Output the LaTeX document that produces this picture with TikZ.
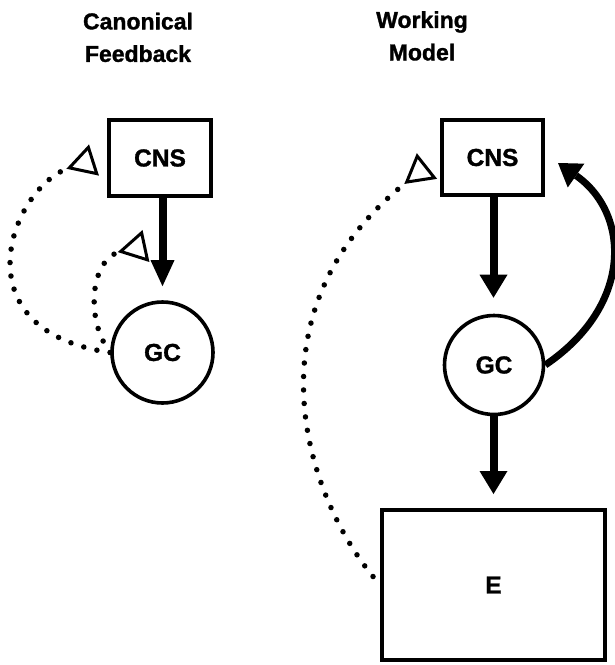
\documentclass[tikz,border=0pt]{standalone}
\usepackage{fontspec}
\setmainfont{Liberation Sans}[BoldFeatures={FakeBold=1.3}]
\usetikzlibrary{arrows.meta}
\begin{document}
\begin{tikzpicture}[x=1pt,y=1pt,
  labelfont/.style={font=\bfseries\fontsize{24.5}{28}\selectfont},
  box/.style={draw, line width=4pt, inner sep=0pt, labelfont},
  gcnode/.style={draw, circle, line width=3.6pt, inner sep=0pt, labelfont},
  titletext/.style={align=center, anchor=north, inner sep=0pt, font=\bfseries\fontsize{23}{32.5}\selectfont},
  shaft/.style={line width=8pt},
  dotline/.style={line width=5.5pt, line cap=round, dash pattern=on 0pt off 13.5pt,
    -{Triangle[open, reversed, length=29pt, width=32pt, line width=3pt]}}]
\useasboundingbox (0,0) rectangle (615,-665);

% titles
\node[titletext] (t1) at (138,-12.5) {Canonical\\Feedback};
\node[titletext] (t2) at (422,-11) {Working\\Model};

% left panel
\node[box, minimum width=102pt, minimum height=76pt] (cns1) at (160,-158) {CNS};
\node[gcnode, minimum size=101pt] (gc1) at (162.5,-352.5) {GC};

% right panel
\node[box, minimum width=101pt, minimum height=75pt] (cns2) at (492.5,-157.5) {CNS};
\node[gcnode, minimum size=99pt] (gc2) at (494,-365) {GC};
\node[box, minimum width=223pt, minimum height=150pt] (e) at (493.5,-585) {E};

% free ends of feedback connectors
\coordinate (fbA) at (94,-160);
\coordinate (fbB) at (146,-246);
\coordinate (fbC) at (427,-166);
\coordinate (fbD) at (558,-163);

% solid arrows
\draw[shaft, -{Triangle[length=26pt, width=24pt, line width=0pt]}, shorten >=14pt]
  (cns1.south -| gc1.north) -- (gc1.north);
\draw[shaft, -{Triangle[length=23pt, width=28pt, line width=0pt]}, shorten >=16pt]
  (cns2.south -| e.north) -- (gc2.north -| e.north);
\draw[shaft, -{Triangle[length=23pt, width=28pt, line width=0pt]}, shorten >=14pt]
  (gc2.south -| e.north) -- (e.north);

% curved thick arrow GC -> CNS
\draw[line width=7pt, -{Triangle[length=22pt, width=29pt, line width=0pt]}]
  (gc2.east) .. controls (634.6,-304.4) and (629.3,-212.6) .. (fbD);

% dotted feedback
\draw[dotline] (gc1.west) .. controls (-45,-330) and (12,-186) .. (fbA);
\draw[dotline] (gc1.west) .. controls (85,-320) and (90,-258) .. (fbB);
\draw[dotline, shorten <=11pt] (e.west) .. controls (306,-495) and (244,-310.7) .. (fbC);
\end{tikzpicture}
\end{document}
